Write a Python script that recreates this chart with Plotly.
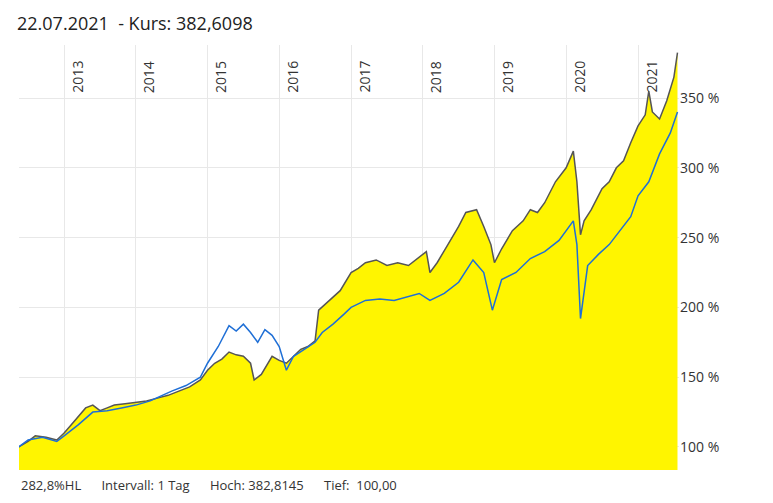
import plotly.graph_objects as go
import pandas as pd

fund_t = [2012.37,2012.5,2012.6,2012.75,2012.9,2013.0,2013.1,2013.2,2013.3,2013.4,2013.5,2013.6,2013.7,2013.85,2014.0,2014.15,2014.3,2014.45,2014.6,2014.75,2014.9,2015.0,2015.1,2015.2,2015.3,2015.4,2015.5,2015.6,2015.65,2015.75,2015.9,2016.0,2016.1,2016.2,2016.3,2016.4,2016.5,2016.55,2016.7,2016.85,2017.0,2017.1,2017.2,2017.35,2017.5,2017.65,2017.8,2017.95,2018.05,2018.1,2018.2,2018.35,2018.5,2018.6,2018.75,2018.85,2018.95,2019.0,2019.1,2019.25,2019.4,2019.5,2019.6,2019.7,2019.85,2020.0,2020.1,2020.15,2020.2,2020.25,2020.35,2020.5,2020.6,2020.7,2020.8,2020.9,2021.0,2021.1,2021.15,2021.2,2021.3,2021.4,2021.5,2021.55]
fund_v = [100,104,108,107,105,110,116,122,128,130,126,128,130,131,132,133,135,137,140,143,148,155,160,163,168,166,165,160,148,152,165,162,160,165,170,172,176,198,205,212,225,228,232,234,230,232,230,236,240,225,232,245,258,268,270,258,245,232,242,255,262,270,268,275,290,300,312,290,252,262,270,285,290,300,305,318,330,338,355,340,335,348,365,382.6]

bench_t = [2012.37,2012.5,2012.7,2012.9,2013.0,2013.2,2013.4,2013.6,2013.8,2014.0,2014.2,2014.5,2014.7,2014.9,2015.0,2015.15,2015.3,2015.4,2015.5,2015.6,2015.7,2015.8,2015.9,2016.0,2016.1,2016.2,2016.35,2016.5,2016.6,2016.75,2016.9,2017.0,2017.2,2017.4,2017.6,2017.8,2017.95,2018.1,2018.3,2018.5,2018.7,2018.85,2018.97,2019.1,2019.3,2019.5,2019.7,2019.9,2020.1,2020.15,2020.2,2020.3,2020.45,2020.6,2020.75,2020.9,2021.0,2021.15,2021.3,2021.45,2021.55]
bench_v = [100,105,107,104,108,116,125,126,128,130,133,140,144,150,160,172,187,183,188,182,175,184,180,172,155,165,170,175,182,188,195,200,205,206,205,208,210,205,210,218,234,225,198,220,225,235,240,248,262,245,192,230,238,245,255,265,280,290,310,325,340]

years = list(range(2013, 2022))

def to_date(t):
    y = int(t)
    return pd.Timestamp(year=y, month=1, day=1) + pd.Timedelta(days=(t - y) * 365.25)

fx = [to_date(t) for t in fund_t]
bx = [to_date(t) for t in bench_t]

fig = go.Figure()
fig.add_trace(go.Scatter(x=fx, y=fund_v, mode="lines", line=dict(color="#555555", width=1.5),
                         fill="tozeroy", fillcolor="#fff500"))
fig.add_trace(go.Scatter(x=bx, y=bench_v, mode="lines", line=dict(color="#1f6fd6", width=1.5)))

x0 = to_date(2012.373)
x1 = to_date(2021.571)
for y in years:
    fig.add_annotation(x=pd.Timestamp(year=y, month=1, day=1), y=1, yref="paper", yanchor="bottom",
                       text=str(y), textangle=-90, showarrow=False, xanchor="left", xshift=1, yshift=-50,
                       font=dict(size=14, color="#333"))

fig.update_layout(
    width=773, height=503, margin=dict(l=11, r=102, t=37, b=41),
    plot_bgcolor="white", paper_bgcolor="white", showlegend=False,
    font=dict(family="Open Sans", color="#333"),
    xaxis=dict(range=[x0, x1], tickvals=[pd.Timestamp(year=y, month=1, day=1) for y in years],
               showticklabels=False, showgrid=True, gridcolor="#e8e8e8", zeroline=False, showline=False),
    yaxis=dict(range=[83.5, 388], side="right", tickvals=[100,150,200,250,300,350],
               ticktext=[f"{v} %" for v in [100,150,200,250,300,350]], showgrid=True, gridcolor="#e8e8e8",
               zeroline=False, tickfont=dict(size=14, color="#333"), ticks="", layer="above traces"),
)
fig.add_annotation(x=0, y=1, xref="paper", yref="paper", xanchor="left", yanchor="bottom", yshift=8, xshift=-4,
                   text="22.07.2021  - Kurs: 382,6098", showarrow=False, font=dict(size=18, color="#222"))
fig.add_annotation(x=0, y=0, xref="paper", yref="paper", xanchor="left", yanchor="top", yshift=-4, xshift=0,
                   text="282,8%HL&nbsp;&nbsp;&nbsp;&nbsp;&nbsp;&nbsp;Intervall: 1 Tag&nbsp;&nbsp;&nbsp;&nbsp;&nbsp;&nbsp;Hoch: 382,8145&nbsp;&nbsp;&nbsp;&nbsp;&nbsp;&nbsp;Tief:&nbsp;&nbsp;100,00",
                   showarrow=False, font=dict(size=13, color="#333"))
fig.write_html("out.html")
